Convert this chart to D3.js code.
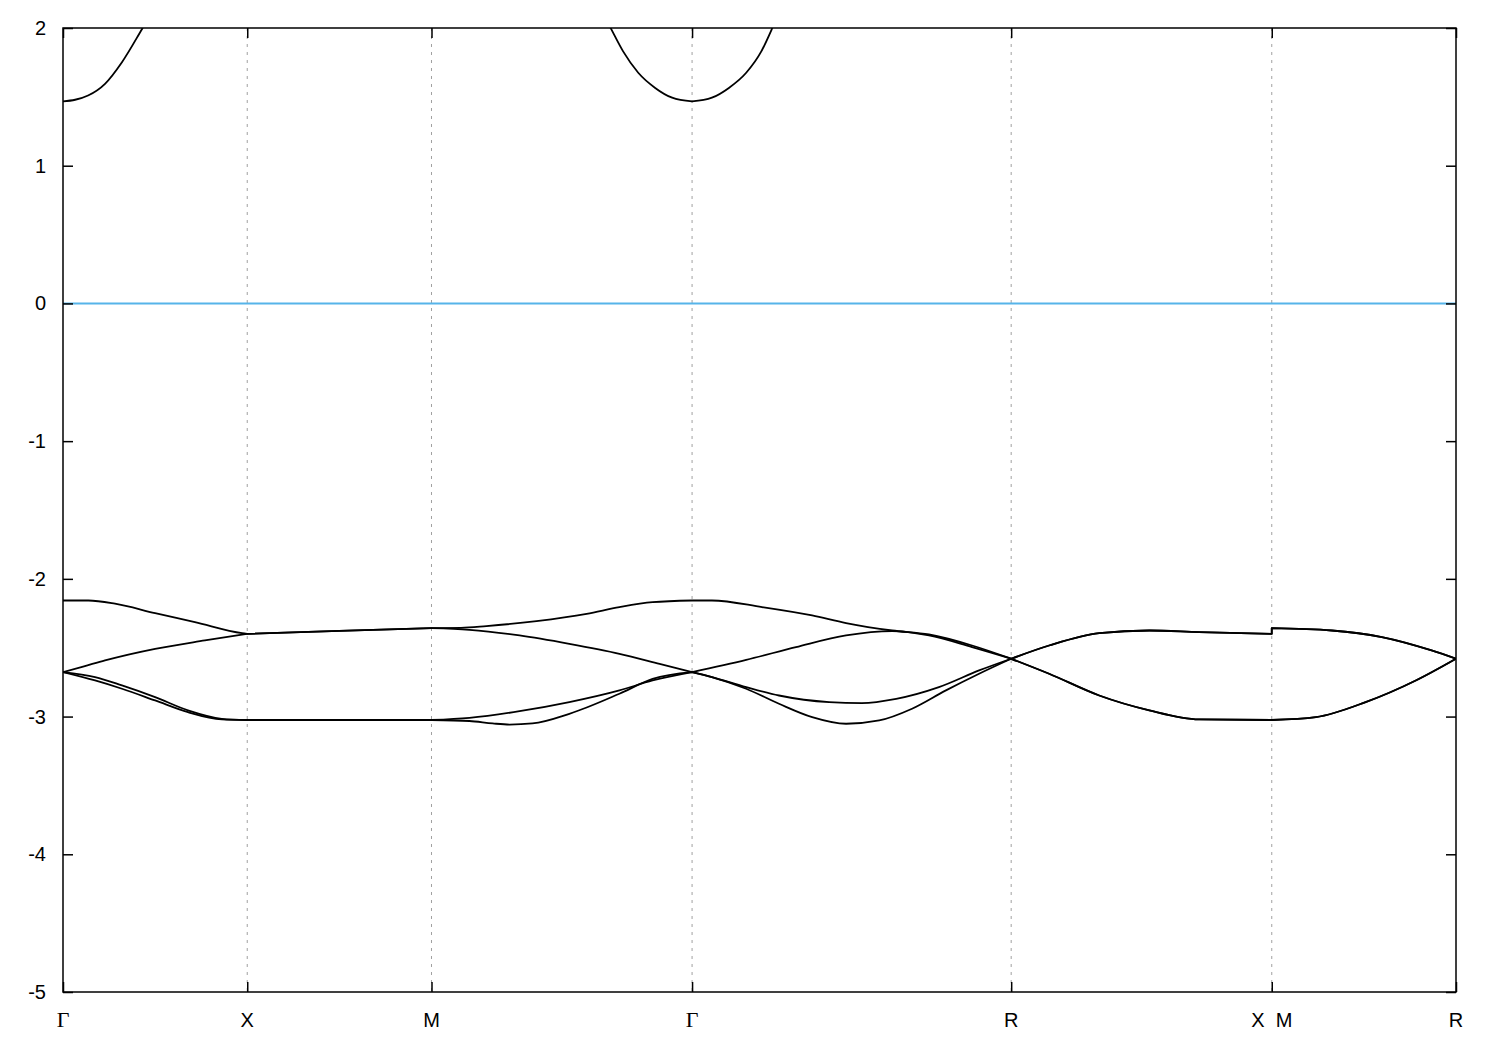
<!DOCTYPE html>
<html>
<head>
<meta charset="utf-8">
<script src="https://cdn.jsdelivr.net/npm/d3@7"></script>
<style>
  html, body { margin: 0; padding: 0; background: #fff; }
  svg { display: block; }
</style>
</head>
<body>
<svg id="chart" width="1500" height="1050"></svg>
<script>
// ---- data ----
const kPointPos = [0, 0.5, 1.0, 1.7071, 2.5731, 3.2802, 3.7802];
const kPointLabels = ["Γ", "X", "M", "Γ", "R", "X  M", "R"];
const yTicks = [2, 1, 0, -1, -2, -3, -4, -5];

// conduction band (parts above 2 eV are clipped by the frame)
const bandC = [
  [0, 1.467], [0.033, 1.479], [0.068, 1.510], [0.114, 1.595], [0.160, 1.752], [0.215, 1.995], [0.26, 2.2],
  [1.44, 2.23], [1.487, 1.995], [1.520, 1.83], [1.561, 1.675], [1.607, 1.565], [1.653, 1.494], [1.7071, 1.467],
  [1.761, 1.494], [1.807, 1.565], [1.854, 1.675], [1.895, 1.83], [1.924, 1.995], [1.96, 2.23]
];
const bandV1 = [
  [0, -2.157], [0.069, -2.157], [0.141, -2.18], [0.250, -2.249], [0.358, -2.314], [0.486, -2.394], [0.5, -2.399],
  [0.75, -2.378], [1.0, -2.358],
  [1.08, -2.356], [1.149, -2.343], [1.285, -2.307], [1.421, -2.254], [1.510, -2.205], [1.600, -2.169], [1.7071, -2.157],
  [1.761, -2.157], [1.897, -2.205], [2.033, -2.266], [2.125, -2.321], [2.250, -2.375], [2.350, -2.404], [2.467, -2.484], [2.5731, -2.580],
  [2.676, -2.484], [2.812, -2.394], [2.948, -2.375], [3.083, -2.387], [3.2802, -2.399],
  [3.2802, -2.358], [3.443, -2.375], [3.579, -2.423], [3.714, -2.520], [3.7802, -2.580]
];
const bandV2 = [
  [0, -2.677], [0.057, -2.635], [0.114, -2.592], [0.250, -2.508], [0.385, -2.447], [0.5, -2.399],
  [0.75, -2.378], [1.0, -2.358],
  [1.103, -2.370], [1.239, -2.411], [1.374, -2.472], [1.510, -2.544], [1.619, -2.617], [1.7071, -2.677],
  [1.854, -2.588], [1.989, -2.496], [2.125, -2.411], [2.250, -2.380], [2.350, -2.411], [2.467, -2.496], [2.5731, -2.580],
  [2.676, -2.484], [2.812, -2.394], [2.948, -2.375], [3.083, -2.387], [3.2802, -2.399],
  [3.2802, -2.358], [3.443, -2.375], [3.579, -2.423], [3.714, -2.520], [3.7802, -2.580]
];
const bandV3 = [
  [0, -2.677], [0.087, -2.713], [0.160, -2.774], [0.250, -2.859], [0.339, -2.955], [0.431, -3.016], [0.5, -3.025],
  [0.75, -3.025], [1.0, -3.025],
  [1.103, -3.009], [1.239, -2.961], [1.374, -2.895], [1.510, -2.810], [1.600, -2.738], [1.7071, -2.677],
  [1.761, -2.713], [1.854, -2.786], [1.943, -2.847], [2.079, -2.895], [2.168, -2.902], [2.261, -2.871], [2.377, -2.786], [2.486, -2.665], [2.5731, -2.580],
  [2.676, -2.689], [2.812, -2.847], [2.948, -2.955], [3.083, -3.021], [3.2802, -3.025],
  [3.400, -3.004], [3.535, -2.895], [3.671, -2.738], [3.7802, -2.580]
];
const bandV4 = [
  [0, -2.677], [0.087, -2.738], [0.160, -2.798], [0.250, -2.883], [0.339, -2.968], [0.431, -3.021], [0.5, -3.025],
  [0.75, -3.025], [1.0, -3.025],
  [1.103, -3.032], [1.166, -3.050], [1.212, -3.058], [1.274, -3.050], [1.374, -2.98], [1.510, -2.834], [1.600, -2.726], [1.7071, -2.677],
  [1.761, -2.713], [1.854, -2.798], [1.943, -2.907], [2.033, -3.004], [2.125, -3.052], [2.215, -3.028], [2.304, -2.943], [2.396, -2.810], [2.486, -2.689], [2.5731, -2.580],
  [2.676, -2.689], [2.812, -2.847], [2.948, -2.955], [3.083, -3.021], [3.2802, -3.025],
  [3.400, -3.004], [3.535, -2.895], [3.671, -2.738], [3.7802, -2.580]
];
const bands = [bandC, bandV1, bandV2, bandV3, bandV4];
const fermiLevel = 0;

// ---- layout ----
const mLeft = 63, mRight = 1456, mTop = 28, mBottom = 992;
const svg = d3.select("#chart");

const x = d3.scaleLinear().domain([0, 3.7802]).range([mLeft, mRight]);
const y = d3.scaleLinear().domain([-5, 2]).range([mBottom, mTop]);

svg.append("defs").append("clipPath").attr("id", "plotclip")
  .append("rect").attr("x", mLeft).attr("y", mTop).attr("width", mRight - mLeft).attr("height", mBottom - mTop);

// vertical dashed grid lines at high-symmetry points
svg.append("g").selectAll("line")
  .data(kPointPos.slice(1, -1))
  .join("line")
  .attr("x1", d => x(d)).attr("x2", d => x(d))
  .attr("y1", mTop).attr("y2", mBottom)
  .attr("stroke", "#a0a0a0").attr("stroke-width", 1)
  .attr("stroke-dasharray", "3,5");

// Fermi level
svg.append("line")
  .attr("x1", mLeft).attr("x2", mRight)
  .attr("y1", y(fermiLevel)).attr("y2", y(fermiLevel))
  .attr("stroke", "#56b4e9").attr("stroke-width", 2);

// bands: smooth each path segment between high-symmetry points, join segments continuously
const segLine = d3.line().x(p => x(p[0])).y(p => y(p[1])).curve(d3.curveMonotoneX);
const isK = k => kPointPos.some(v => Math.abs(v - k) < 1e-6);
function bandPath(pts) {
  const segs = [];
  let cur = [pts[0]];
  for (let i = 1; i < pts.length; i++) {
    const p = pts[i];
    if (Math.abs(p[0] - cur[cur.length - 1][0]) < 1e-9) { // discontinuity at same k
      if (cur.length > 1) segs.push(cur);
      cur = [p];
      continue;
    }
    cur.push(p);
    if (isK(p[0]) && i < pts.length - 1) { segs.push(cur); cur = [p]; }
  }
  if (cur.length > 1) segs.push(cur);
  return segs.map((s, i) => {
    const d = segLine(s);
    return i === 0 ? d : "L" + d.slice(1);
  }).join("");
}
svg.append("g").attr("clip-path", "url(#plotclip)")
  .selectAll("path").data(bands).join("path")
  .attr("d", d => bandPath(d))
  .attr("fill", "none").attr("stroke", "#000").attr("stroke-width", 1.8)
  .attr("stroke-linejoin", "round");

// axes (gnuplot style: ticks inward on all sides)
const tickLen = 10;
const axL = svg.append("g").attr("transform", `translate(${mLeft},0)`)
  .call(d3.axisRight(y).tickValues(yTicks).tickSize(tickLen).tickFormat(""));
const axR = svg.append("g").attr("transform", `translate(${mRight},0)`)
  .call(d3.axisLeft(y).tickValues(yTicks).tickSize(tickLen).tickFormat(""));
const axB = svg.append("g").attr("transform", `translate(0,${mBottom})`)
  .call(d3.axisTop(x).tickValues(kPointPos).tickSize(tickLen).tickFormat(""));
const axT = svg.append("g").attr("transform", `translate(0,${mTop})`)
  .call(d3.axisBottom(x).tickValues(kPointPos).tickSize(tickLen).tickFormat(""));
[axL, axR, axB, axT].forEach(a => {
  a.select(".domain").remove();
  a.selectAll(".tick line").attr("stroke", "#000").attr("stroke-width", 1.5);
});

// frame
svg.append("rect").attr("x", mLeft).attr("y", mTop)
  .attr("width", mRight - mLeft).attr("height", mBottom - mTop)
  .attr("fill", "none").attr("stroke", "#000").attr("stroke-width", 1.5);

// y tick labels
svg.append("g").selectAll("text").data(yTicks).join("text")
  .attr("x", mLeft - 17).attr("y", d => y(d)).attr("dy", "0.35em")
  .attr("text-anchor", "end")
  .attr("font-family", "'Liberation Sans', Arial, sans-serif").attr("font-size", 20)
  .text(d => d);

// x tick labels
svg.append("g").selectAll("text").data(kPointPos).join("text")
  .attr("x", d => x(d)).attr("y", mBottom + 35)
  .attr("text-anchor", "middle")
  .attr("font-family", (d, i) => kPointLabels[i] === "Γ" ? "'Liberation Serif', 'DejaVu Serif', serif" : "'Liberation Sans', Arial, sans-serif")
  .attr("font-size", (d, i) => kPointLabels[i] === "Γ" ? 22 : 20)
  .style("white-space", "pre")
  .text((d, i) => kPointLabels[i]);
</script>
</body>
</html>
